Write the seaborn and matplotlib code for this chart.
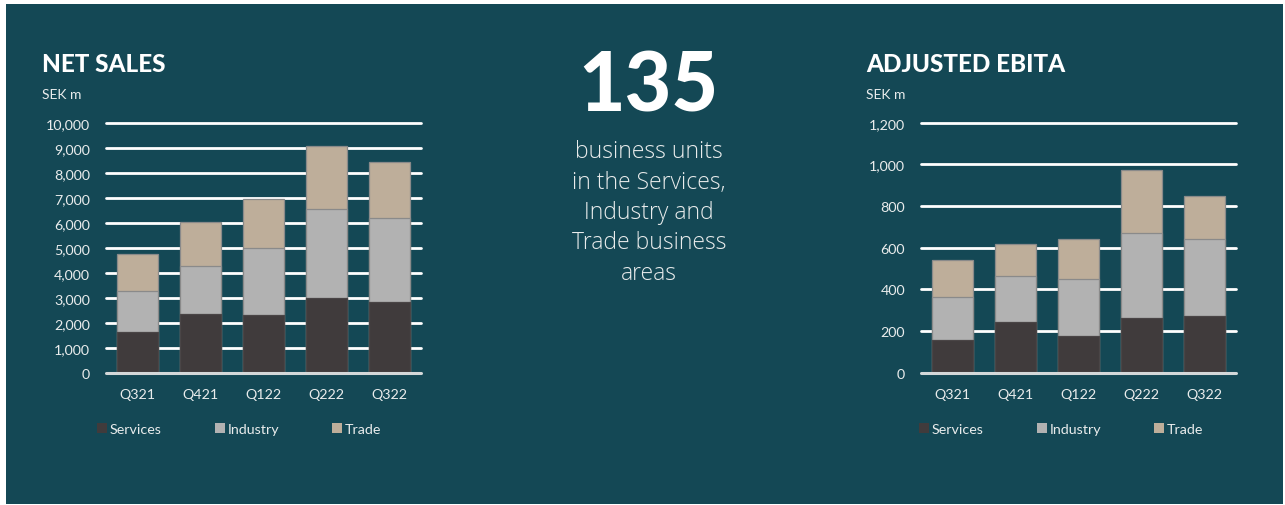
import matplotlib
matplotlib.use("Agg")
import matplotlib.pyplot as plt
from matplotlib.patches import Rectangle, Patch
from matplotlib.ticker import FuncFormatter
import pandas as pd
import seaborn as sns

# ---- data -------------------------------------------------------------
quarters = ["Q321", "Q421", "Q122", "Q222", "Q322"]
segments = ["Services", "Industry", "Trade"]

net_sales_services = [1620, 2340, 2290, 3000, 2810]
net_sales_industry = [1630, 1920, 2700, 3540, 3370]
net_sales_trade = [1500, 1780, 1940, 2520, 2240]

ebita_services = [158, 243, 178, 261, 270]
ebita_industry = [204, 223, 273, 411, 373]
ebita_trade = [177, 152, 189, 302, 204]

net_sales_ticks = list(range(0, 10001, 1000))
ebita_ticks = list(range(0, 1201, 200))

# ---- style ------------------------------------------------------------
sns.set_theme(style="white")
plt.rcParams["font.family"] = ["Lato", "DejaVu Sans"]

BG = "#144855"
TXT = "#e9ecec"
COLORS = {"Services": "#403b3c", "Industry": "#b2b2b2", "Trade": "#beae9a"}
EDGE = "#8a8a8a"

W, H = 1285, 506
fig = plt.figure(figsize=(W / 100, H / 100), dpi=100, facecolor="white")
fig.patches.append(Rectangle((6 / W, 1 / H), (W - 8) / W, (H - 6) / H,
                             transform=fig.transFigure, facecolor=BG,
                             edgecolor="none", zorder=-5))


def fx(px):
    return px / W


def fy(py):
    return 1 - py / H


def stacked_panel(ax, services, industry, trade, ticks):
    df = pd.DataFrame({"quarter": quarters, "Services": services,
                       "Industry": industry, "Trade": trade})
    df["lvl1"] = df["Services"]
    df["lvl2"] = df["Services"] + df["Industry"]
    df["lvl3"] = df["lvl2"] + df["Trade"]
    # draw cumulative layers back to front so they stack
    for col, seg in [("lvl3", "Trade"), ("lvl2", "Industry"), ("lvl1", "Services")]:
        sns.barplot(data=df, x="quarter", y=col, order=quarters, ax=ax,
                    color=COLORS[seg], saturation=1, width=0.665,
                    edgecolor=EDGE if seg != "Services" else "#4a4546",
                    linewidth=0.9, zorder=3)
    ax.set_facecolor("none")
    ax.set_ylim(ticks[0], ticks[-1])
    ax.set_xlim(-0.5, len(quarters) - 0.5)
    for t in ticks[1:]:
        ax.axhline(t, color="white", lw=2.0, zorder=1, clip_on=False)
    ax.axhline(0, color="#d4d8d9", lw=2.2, zorder=4, clip_on=False)
    ax.set_yticks(ticks)
    ax.yaxis.set_major_formatter(FuncFormatter(lambda v, p: f"{int(v):,}"))
    ax.tick_params(axis="y", length=0, pad=11.5, labelsize=10.3, colors=TXT)
    ax.tick_params(axis="x", length=0, pad=11, labelsize=10.3, colors=TXT)
    ax.set_xlabel("")
    ax.set_ylabel("")
    for s in ax.spines.values():
        s.set_visible(False)


def legend_for(x_left, col_space):
    handles = [Patch(facecolor=COLORS[s], edgecolor="none", label=s) for s in segments]
    leg = fig.legend(handles=handles, loc="center left",
                     bbox_to_anchor=(fx(x_left), fy(430)), ncol=3, frameon=False,
                     handlelength=0.72, handleheight=0.72, handletextpad=0.18,
                     columnspacing=col_space, borderpad=0, borderaxespad=0,
                     fontsize=10.3)
    for t in leg.get_texts():
        t.set_color(TXT)
    return leg


# Net sales panel
ax1 = fig.add_axes([fx(106), fy(373.7), fx(315), 250 / H])
stacked_panel(ax1, net_sales_services, net_sales_industry, net_sales_trade,
              net_sales_ticks)
legend_for(97, 3.7)

# Adjusted EBITA panel
ax2 = fig.add_axes([fx(921), fy(373.7), fx(315), 250 / H])
stacked_panel(ax2, ebita_services, ebita_industry, ebita_trade, ebita_ticks)
legend_for(919, 3.7)

# titles and unit labels
fig.text(fx(42), fy(72.5), "NET SALES", color="white", fontsize=17.5,
         fontweight="black", va="baseline", ha="left")
fig.text(fx(42), fy(99), "SEK m", color=TXT, fontsize=10,
         va="baseline", ha="left")
fig.text(fx(866), fy(72.5), "ADJUSTED EBITA", color="white", fontsize=17.5,
         fontweight="black", va="baseline", ha="left")
fig.text(fx(866), fy(99), "SEK m", color=TXT, fontsize=10,
         va="baseline", ha="left")

# key figure in the middle
fig.text(fx(648), fy(111.7), "135", color="white", fontsize=58,
         fontweight="black", va="baseline", ha="center")
lines = ["business units", "in the Services,", "Industry and",
         "Trade business", "areas"]
for i, line in enumerate(lines):
    fig.text(fx(649), fy(158.3 + 30.3 * i), line, color=TXT, fontsize=16.5,
             family=["Open Sans", "DejaVu Sans"], fontweight="light",
             va="baseline", ha="center")

fig.savefig("out.png", dpi=100, facecolor="white")
